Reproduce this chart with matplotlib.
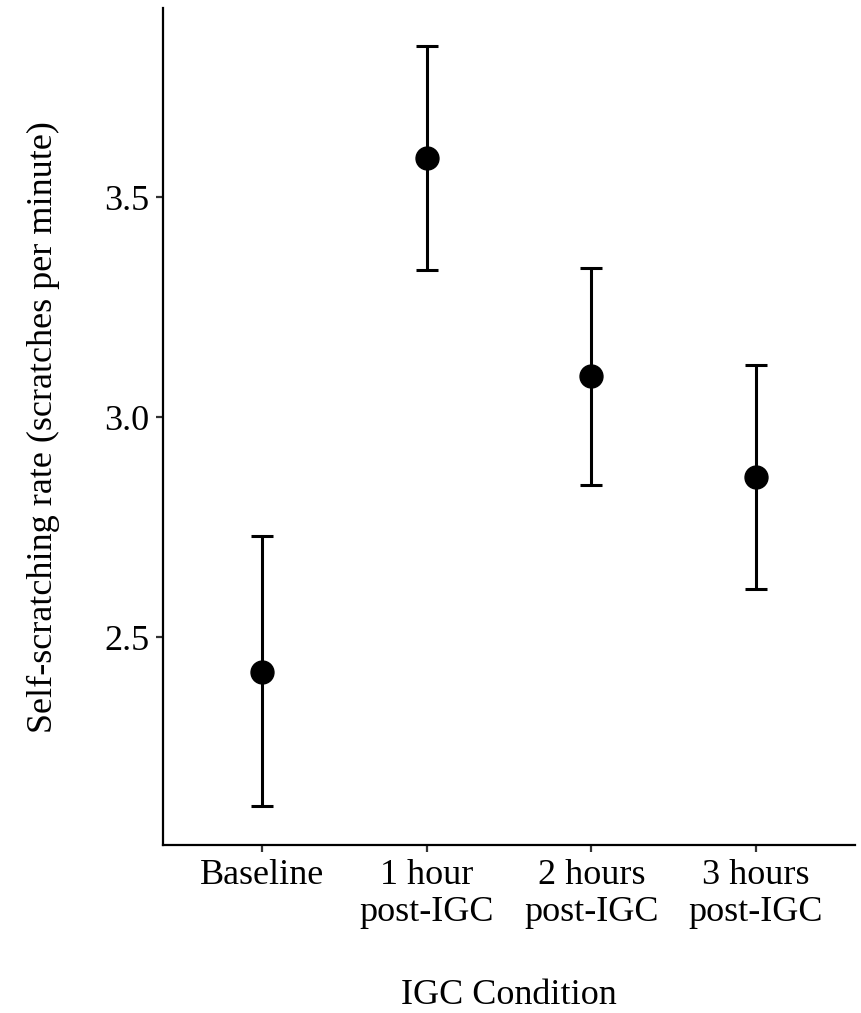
import numpy as np
import matplotlib.pyplot as plt

plt.rcParams['font.family'] = ['Liberation Serif', 'DejaVu Serif']

conditions = ['Baseline', '1 hour\npost-IGC', '2 hours\npost-IGC', '3 hours\npost-IGC']
mean_rate = [2.420, 3.590, 3.093, 2.864]
ci_low = [2.116, 3.334, 2.845, 2.609]
ci_high = [2.730, 3.843, 3.339, 3.118]

x = np.arange(len(conditions))
mean_rate = np.array(mean_rate)
err = [mean_rate - np.array(ci_low), np.array(ci_high) - mean_rate]

fig = plt.figure(figsize=(8.61, 10.13), dpi=100)
ax = fig.add_axes([0.1893, 0.1658, 0.8037, 0.8262])

ax.errorbar(x, mean_rate, yerr=err, fmt='o', color='black', ecolor='black',
            markersize=16.5, elinewidth=2.2, capsize=8, capthick=2.2)

ax.set_xlim(-0.6, 3.6)
ax.set_ylim(2.027, 3.93)
ax.set_yticks([2.5, 3.0, 3.5])
ax.set_yticklabels(['2.5', '3.0', '3.5'])
ax.set_xticks(x)
ax.set_xticklabels(conditions, linespacing=1.18)

for s in ['top', 'right']:
    ax.spines[s].set_visible(False)
for s in ['left', 'bottom']:
    ax.spines[s].set_linewidth(1.6)

ax.tick_params(axis='both', labelsize=26, length=5, width=1.6, color='#333333',
               labelcolor='black', pad=5)
ax.set_xlabel('IGC Condition', fontsize=26, labelpad=36)
ax.set_ylabel('Self-scratching rate (scratches per minute)', fontsize=26, labelpad=32)

fig.savefig('out.png', dpi=100)
